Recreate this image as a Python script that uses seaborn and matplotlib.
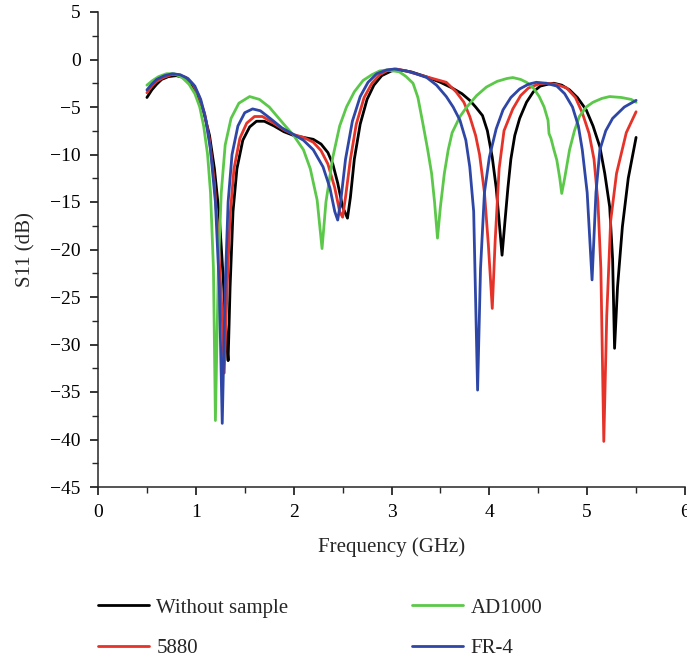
import numpy as np
import pandas as pd
import matplotlib
matplotlib.use("Agg")
import matplotlib.pyplot as plt
from matplotlib.ticker import MultipleLocator
import seaborn as sns

# --- valores (frequencia em GHz, S11 em dB) ---
freq_sem = [0.50, 0.55, 0.60, 0.65, 0.72, 0.80, 0.88, 0.95, 1.02, 1.08, 1.14, 1.19, 1.24, 1.28, 1.31, 1.33,
            1.35, 1.38, 1.42, 1.48, 1.55, 1.62, 1.70, 1.80, 1.90, 2.00, 2.10, 2.20, 2.28, 2.35, 2.40, 2.45,
            2.50, 2.55, 2.58, 2.62, 2.68, 2.75, 2.82, 2.90, 3.00, 3.08, 3.20, 3.35, 3.50, 3.62, 3.72, 3.80,
            3.86, 3.93, 3.98, 4.03, 4.07, 4.10, 4.13, 4.16, 4.19, 4.22, 4.26, 4.31, 4.38, 4.45, 4.52, 4.60,
            4.66, 4.74, 4.82, 4.90, 4.99, 5.06, 5.13, 5.18, 5.23, 5.26, 5.28, 5.31, 5.36, 5.42, 5.50]
s11_sem = [-4.0, -3.2, -2.6, -2.1, -1.8, -1.7, -1.9, -2.6, -3.8, -5.5, -8.0, -11.5, -16.5, -23.0, -29.0, -31.7,
           -24.0, -16.0, -11.5, -8.5, -7.1, -6.5, -6.5, -7.0, -7.6, -8.0, -8.2, -8.4, -8.9, -9.8, -11.0, -13.0,
           -15.5, -16.7, -14.5, -10.5, -6.8, -4.2, -2.7, -1.7, -1.2, -1.1, -1.3, -1.8, -2.4, -3.0, -3.6, -4.3,
           -5.0, -5.9, -7.5, -10.3, -13.5, -17.0, -20.6, -17.0, -13.5, -10.5, -8.0, -6.2, -4.5, -3.4, -2.8, -2.6,
           -2.5, -2.7, -3.2, -4.0, -5.3, -7.0, -9.2, -12.0, -15.5, -21.0, -30.4, -24.0, -17.6, -12.5, -8.2]

freq_5880 = [0.50, 0.55, 0.60, 0.67, 0.75, 0.82, 0.90, 0.97, 1.03, 1.09, 1.14, 1.19, 1.23, 1.27, 1.29,
             1.32, 1.35, 1.39, 1.45, 1.52, 1.60, 1.68, 1.78, 1.90, 2.00, 2.10, 2.20, 2.28, 2.35, 2.42, 2.47,
             2.50, 2.53, 2.58, 2.64, 2.72, 2.80, 2.88, 2.97, 3.05, 3.15, 3.28, 3.42, 3.56, 3.66, 3.74, 3.80,
             3.86, 3.90, 3.95, 3.99, 4.03, 4.06, 4.10, 4.15, 4.24, 4.32, 4.40, 4.50, 4.58, 4.68, 4.79, 4.88,
             4.95, 5.02, 5.07, 5.11, 5.14, 5.17, 5.20, 5.24, 5.30, 5.40, 5.50]
s11_5880 = [-3.5, -2.8, -2.3, -1.9, -1.6, -1.6, -1.9, -2.6, -3.8, -5.7, -8.5, -13.0, -19.0, -27.0, -33.0,
            -24.0, -16.5, -11.5, -8.3, -6.7, -6.0, -6.0, -6.6, -7.4, -7.9, -8.2, -8.7, -9.6, -11.0, -13.5, -16.0,
            -16.6, -14.5, -10.5, -6.8, -4.0, -2.5, -1.6, -1.1, -1.0, -1.2, -1.6, -2.0, -2.4, -3.4, -4.5, -6.0,
            -8.0, -10.0, -14.0, -19.5, -26.2, -19.0, -11.5, -7.5, -5.2, -3.8, -3.0, -2.6, -2.5, -2.6, -3.0, -4.0,
            -5.6, -7.8, -10.5, -15.0, -22.0, -40.2, -27.0, -17.0, -12.0, -7.7, -5.5]

freq_ad = [0.50, 0.56, 0.62, 0.70, 0.78, 0.86, 0.93, 0.99, 1.04, 1.08, 1.12, 1.15, 1.18, 1.20, 1.23, 1.26,
           1.30, 1.36, 1.44, 1.55, 1.65, 1.75, 1.89, 2.00, 2.10, 2.17, 2.24, 2.29, 2.33, 2.40, 2.47, 2.54,
           2.62, 2.71, 2.80, 2.88, 2.96, 3.08, 3.15, 3.22, 3.27, 3.32, 3.37, 3.41, 3.44, 3.47, 3.50, 3.54,
           3.58, 3.62, 3.70, 3.77, 3.87, 3.97, 4.08, 4.18, 4.24, 4.32, 4.38, 4.45, 4.51, 4.56, 4.60, 4.61,
           4.63, 4.66, 4.69, 4.72, 4.74, 4.77, 4.82, 4.87, 4.92, 4.99, 5.06, 5.15, 5.23, 5.35, 5.45, 5.50]
s11_ad = [-2.7, -2.2, -1.8, -1.5, -1.5, -1.9, -2.6, -3.6, -5.0, -7.0, -10.0, -14.0, -22.0, -38.0, -22.0, -14.0,
          -9.0, -6.2, -4.6, -3.9, -4.2, -5.0, -6.7, -8.0, -9.5, -11.5, -14.8, -19.9, -15.0, -10.3, -7.0, -5.0,
          -3.4, -2.2, -1.6, -1.2, -1.1, -1.3, -1.8, -2.5, -4.0, -6.7, -9.5, -12.0, -15.0, -18.8, -15.5, -12.0,
          -9.5, -7.7, -6.0, -5.0, -3.8, -2.9, -2.3, -2.0, -1.9, -2.1, -2.4, -3.0, -3.9, -5.0, -6.4, -7.8,
          -8.3, -9.5, -10.6, -12.5, -14.1, -12.5, -9.5, -7.5, -6.0, -5.0, -4.5, -4.1, -3.9, -4.0, -4.2, -4.5]

freq_fr4 = [0.50, 0.55, 0.60, 0.68, 0.76, 0.84, 0.92, 0.99, 1.05, 1.10, 1.15, 1.20, 1.24, 1.27, 1.30, 1.33,
            1.37, 1.43, 1.50, 1.58, 1.66, 1.76, 1.88, 2.00, 2.10, 2.20, 2.30, 2.37, 2.42, 2.45, 2.48, 2.53,
            2.60, 2.68, 2.76, 2.85, 2.95, 3.03, 3.15, 3.25, 3.36, 3.46, 3.56, 3.63, 3.70, 3.76, 3.80, 3.84,
            3.88, 3.91, 3.95, 4.00, 4.07, 4.14, 4.22, 4.31, 4.40, 4.48, 4.58, 4.69, 4.77, 4.85, 4.91, 4.95,
            5.00, 5.05, 5.09, 5.13, 5.19, 5.26, 5.38, 5.50]
s11_fr4 = [-3.2, -2.6, -2.1, -1.7, -1.5, -1.6, -2.0, -2.8, -4.2, -6.2, -9.5, -15.0, -24.0, -38.3, -24.0, -15.0,
           -10.0, -7.0, -5.6, -5.2, -5.4, -6.2, -7.2, -7.9, -8.5, -9.5, -11.3, -13.5, -16.0, -16.9, -15.0, -10.5,
           -6.5, -3.9, -2.4, -1.5, -1.1, -1.0, -1.2, -1.5, -1.9, -2.7, -3.9, -5.0, -6.4, -8.5, -11.3, -16.0,
           -34.8, -22.0, -14.0, -10.3, -7.3, -5.3, -4.0, -3.1, -2.6, -2.4, -2.5, -2.8, -3.6, -5.0, -7.0, -9.5,
           -14.0, -23.2, -14.0, -9.5, -7.5, -6.2, -5.0, -4.3]

nomes = ["Without sample", "5880", "AD1000", "FR-4"]
cores = ["#000000", "#e5332a", "#5cc84a", "#2e46a6"]

partes = []
for nome, f, s in zip(nomes, [freq_sem, freq_5880, freq_ad, freq_fr4], [s11_sem, s11_5880, s11_ad, s11_fr4]):
    partes.append(pd.DataFrame({"freq": f, "s11": s, "amostra": nome}))
df = pd.concat(partes, ignore_index=True)

sns.set_style("ticks")
plt.rcParams["font.family"] = ["Liberation Serif", "DejaVu Serif"]
plt.rcParams["axes.linewidth"] = 1.1

fig = plt.figure(figsize=(6.87, 6.59), dpi=100)
ax = fig.add_axes([98 / 687, 1 - 487 / 659, 587 / 687, 475 / 659])

sns.lineplot(data=df, x="freq", y="s11", hue="amostra", hue_order=nomes,
             palette=dict(zip(nomes, cores)), sort=False, estimator=None,
             linewidth=2.0, ax=ax, legend=True)

ax.set_xlim(0, 6)
ax.set_ylim(-45, 5)
ax.xaxis.set_major_locator(MultipleLocator(1))
ax.xaxis.set_minor_locator(MultipleLocator(0.5))
ax.yaxis.set_major_locator(MultipleLocator(5))
ax.yaxis.set_minor_locator(MultipleLocator(2.5))
ax.tick_params(which="major", direction="out", length=6, width=1.1, labelsize=14,
               colors="black", pad=6.5)
ax.tick_params(which="minor", direction="out", length=4, width=1.0)
sns.despine(ax=ax)

ax.set_xlabel("Frequency (GHz)", fontsize=15)
ax.set_ylabel("S11 (dB)", fontsize=15)
ax.xaxis.set_label_coords(0.5, -0.1065)
ax.yaxis.set_label_coords(-0.1073, 0.5)

handles, labels = ax.get_legend_handles_labels()
ax.get_legend().remove()
fig.legend(handles, labels, loc="upper left", bbox_to_anchor=(98 / 687, 1 - 598 / 659),
           ncol=2, frameon=False, fontsize=15, handlelength=2.45, handletextpad=0.35,
           columnspacing=5.95, labelspacing=1.0, borderpad=0, borderaxespad=0)

plt.savefig("out.png", dpi=100)
